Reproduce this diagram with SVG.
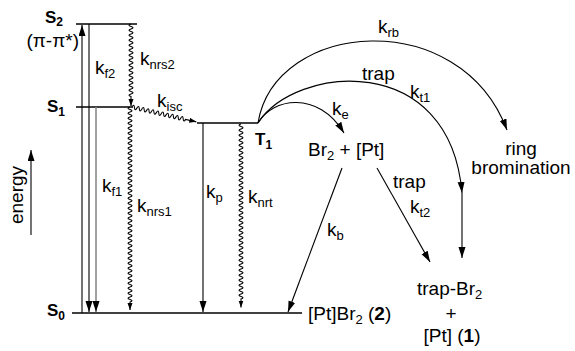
<svg xmlns="http://www.w3.org/2000/svg" width="575" height="351" viewBox="0 0 575 351">
<style>
text{font-family:"Liberation Sans",Arial,Helvetica,sans-serif;font-size:19px;fill:#000}
.b{font-weight:bold;font-size:17px}
.sb{font-size:12px}
.s{font-size:13px}
.lv{stroke:#000;stroke-width:1.4;fill:none}
.ln{stroke:#000;stroke-width:1.1;fill:none}
.w{stroke:#000;stroke-width:1.1;fill:none}
</style>
<defs>
<marker id="a" markerUnits="userSpaceOnUse" markerWidth="12" markerHeight="8" refX="11" refY="3.5" orient="auto"><path d="M0,0 L11,3.5 L0,7 z" fill="#000"/></marker>
<marker id="as" markerUnits="userSpaceOnUse" markerWidth="8" markerHeight="6" refX="7" refY="2.5" orient="auto"><path d="M0,0 L7,2.5 L0,5 z" fill="#000"/></marker>
</defs>
<rect width="575" height="351" fill="#fff"/>

<g id="S2"><line class="lv" x1="76" y1="24" x2="137" y2="24"/><text class="b" x="45" y="23">S<tspan class="sb" dy="3">2</tspan></text><text x="79" y="47" text-anchor="end">(π-π*)</text></g>
<g id="S1"><line class="lv" x1="76" y1="107" x2="133" y2="107"/><text class="b" x="47" y="112">S<tspan class="sb" dy="4">1</tspan></text></g>
<g id="T1"><line class="lv" x1="197" y1="123" x2="258" y2="123"/><text class="b" x="255" y="145">T<tspan class="sb" dy="4">1</tspan></text></g>
<g id="S0"><line class="lv" x1="72" y1="313" x2="302" y2="313"/><text class="b" x="47" y="316">S<tspan class="sb" dy="4">0</tspan></text></g>
<g id="energy"><line class="ln" x1="31" y1="235" x2="31" y2="150" marker-end="url(#a)"/><text transform="translate(23,195) rotate(-90)" text-anchor="middle">energy</text></g>
<g id="BrPt"><text x="308" y="156">Br<tspan class="s" dy="4">2</tspan><tspan dy="-4"> + [Pt]</tspan></text></g>
<g id="ring"><text x="521" y="155" text-anchor="middle">ring</text><text x="521" y="174" text-anchor="middle">bromination</text></g>
<g id="PtBr2"><text x="308" y="320">[Pt]Br<tspan class="s" dy="4">2</tspan><tspan dy="-4"> (</tspan><tspan font-weight="bold">2</tspan>)</text></g>
<g id="trapBr2"><text x="417" y="295">trap-Br<tspan class="s" dy="4">2</tspan></text><text x="451" y="320" text-anchor="middle">+</text><text x="452" y="342" text-anchor="middle">[Pt] (<tspan font-weight="bold">1</tspan>)</text></g>

<g id="connectors">
<line class="ln" x1="82" y1="313" x2="82" y2="25" marker-end="url(#a)"/>
<line class="ln" x1="89" y1="24" x2="89" y2="312" marker-end="url(#a)"/>
<line x1="96" y1="107" x2="96" y2="312" stroke="#8a8a8a" stroke-width="1.6" marker-end="url(#a)"/>
<line class="ln" x1="203" y1="123" x2="203" y2="312" marker-end="url(#a)"/>
<path class="w" marker-end="url(#as)" d="M131,24 q-4,1.25 0,2.5 t0,2.5 t0,2.5 t0,2.5 t0,2.5 t0,2.5 t0,2.5 t0,2.5 t0,2.5 t0,2.5 t0,2.5 t0,2.5 t0,2.5 t0,2.5 t0,2.5 t0,2.5 t0,2.5 t0,2.5 t0,2.5 t0,2.5 t0,2.5 t0,2.5 t0,2.5 t0,2.5 t0,2.5 t0,2.5 t0,2.5 t0,2.5 t0,2.5 l0,9.5"/>
<path class="w" marker-end="url(#as)" d="M130,107 q-4,1.25 0,2.5 t0,2.5 t0,2.5 t0,2.5 t0,2.5 t0,2.5 t0,2.5 t0,2.5 t0,2.5 t0,2.5 t0,2.5 t0,2.5 t0,2.5 t0,2.5 t0,2.5 t0,2.5 t0,2.5 t0,2.5 t0,2.5 t0,2.5 t0,2.5 t0,2.5 t0,2.5 t0,2.5 t0,2.5 t0,2.5 t0,2.5 t0,2.5 t0,2.5 t0,2.5 t0,2.5 t0,2.5 t0,2.5 t0,2.5 t0,2.5 t0,2.5 t0,2.5 t0,2.5 t0,2.5 t0,2.5 t0,2.5 t0,2.5 t0,2.5 t0,2.5 t0,2.5 t0,2.5 t0,2.5 t0,2.5 t0,2.5 t0,2.5 t0,2.5 t0,2.5 t0,2.5 t0,2.5 t0,2.5 t0,2.5 t0,2.5 t0,2.5 t0,2.5 t0,2.5 t0,2.5 t0,2.5 t0,2.5 t0,2.5 t0,2.5 t0,2.5 t0,2.5 t0,2.5 t0,2.5 t0,2.5 t0,2.5 t0,2.5 t0,2.5 t0,2.5 t0,2.5 t0,2.5 t0,2.5 t0,2.5 l0,8"/>
<path class="w" marker-end="url(#as)" d="M241,124 q-4,1.25 0,2.5 t0,2.5 t0,2.5 t0,2.5 t0,2.5 t0,2.5 t0,2.5 t0,2.5 t0,2.5 t0,2.5 t0,2.5 t0,2.5 t0,2.5 t0,2.5 t0,2.5 t0,2.5 t0,2.5 t0,2.5 t0,2.5 t0,2.5 t0,2.5 t0,2.5 t0,2.5 t0,2.5 t0,2.5 t0,2.5 t0,2.5 t0,2.5 t0,2.5 t0,2.5 t0,2.5 t0,2.5 t0,2.5 t0,2.5 t0,2.5 t0,2.5 t0,2.5 t0,2.5 t0,2.5 t0,2.5 t0,2.5 t0,2.5 t0,2.5 t0,2.5 t0,2.5 t0,2.5 t0,2.5 t0,2.5 t0,2.5 t0,2.5 t0,2.5 t0,2.5 t0,2.5 t0,2.5 t0,2.5 t0,2.5 t0,2.5 t0,2.5 t0,2.5 t0,2.5 t0,2.5 t0,2.5 t0,2.5 t0,2.5 t0,2.5 t0,2.5 t0,2.5 t0,2.5 t0,2.5 t0,2.5 l0,8.5"/>
<path class="w" marker-end="url(#as)" transform="translate(132,107) rotate(13)" d="M0,0 q1.25,-4 2.5,0 t2.5,0 t2.5,0 t2.5,0 t2.5,0 t2.5,0 t2.5,0 t2.5,0 t2.5,0 t2.5,0 t2.5,0 t2.5,0 t2.5,0 t2.5,0 t2.5,0 t2.5,0 t2.5,0 t2.5,0 t2.5,0 t2.5,0 t2.5,0 t2.5,0 l11,0"/>
<path class="ln" marker-end="url(#a)" d="M258,123 C272,98 318,90 344,133"/>
<path class="ln" marker-end="url(#a)" d="M258,123 C295,65 450,50 462,193"/>
<line class="ln" x1="462" y1="193" x2="462" y2="258" marker-end="url(#a)"/>
<path class="ln" marker-end="url(#a)" d="M258,123 C275,20 460,5 507,130"/>
<line class="ln" x1="342" y1="168" x2="288" y2="312" marker-end="url(#a)"/>
<line class="ln" x1="377" y1="168" x2="430" y2="262" marker-end="url(#a)"/>
</g>

<g id="labels">
<text x="95" y="74">k<tspan class="s" dy="4">f2</tspan></text>
<text x="140" y="65">k<tspan class="s" dy="4">nrs2</tspan></text>
<text x="157" y="107">k<tspan class="s" dy="4">isc</tspan></text>
<text x="102" y="192">k<tspan class="s" dy="4">f1</tspan></text>
<text x="137" y="212">k<tspan class="s" dy="4">nrs1</tspan></text>
<text x="206" y="198">k<tspan class="s" dy="4">p</tspan></text>
<text x="248" y="203">k<tspan class="s" dy="4">nrt</tspan></text>
<text x="332" y="115">k<tspan class="s" dy="4">e</tspan></text>
<text x="378" y="33">k<tspan class="s" dy="4">rb</tspan></text>
<text x="362" y="80">trap</text>
<text x="410" y="98">k<tspan class="s" dy="4">t1</tspan></text>
<text x="393" y="188">trap</text>
<text x="410" y="213">k<tspan class="s" dy="4">t2</tspan></text>
<text x="327" y="236">k<tspan class="s" dy="4">b</tspan></text>
</g>
</svg>
